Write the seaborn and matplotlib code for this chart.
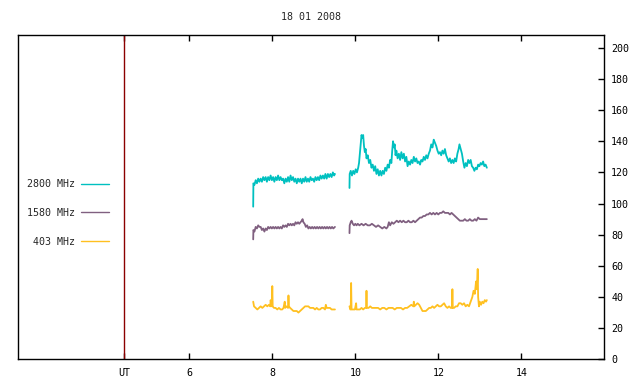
import numpy as np
import pandas as pd
import matplotlib
matplotlib.use("Agg")
import matplotlib.pyplot as plt
import seaborn as sns
from matplotlib.lines import Line2D

# %% Data (time in UT hours, flux in sfu)
title = "18 01 2008"
bands = ["2800 MHz", "1580 MHz", "403 MHz"]
colors = ["#00c0c0", "#806080", "#ffc020"]
ut_marker = 4.43
x_ticks = [6, 8, 10, 12, 14]
y_ticks = list(range(0, 201, 20))

t_2800_a = [7.54, 7.545, 7.57, 7.60, 7.63, 7.66, 7.69, 7.72, 7.75, 7.78, 7.81, 7.84, 7.87, 7.90,
            7.93, 7.96, 7.99, 8.02, 8.05, 8.08, 8.11, 8.14, 8.17, 8.20, 8.23, 8.26, 8.29, 8.32,
            8.35, 8.38, 8.41, 8.44, 8.47, 8.50, 8.53, 8.56, 8.59, 8.62, 8.65, 8.68, 8.71, 8.74,
            8.77, 8.80, 8.83, 8.86, 8.89, 8.92, 8.95, 8.98, 9.01, 9.04, 9.07, 9.10, 9.13, 9.16,
            9.19, 9.22, 9.25, 9.28, 9.31, 9.34, 9.37, 9.40, 9.43, 9.46, 9.49, 9.51]
v_2800_a = [98, 113, 112, 115, 113, 116, 114, 116, 114, 117, 115, 117, 114, 117,
            115, 118, 115, 117, 114, 117, 115, 118, 115, 117, 115, 116, 113, 116,
            114, 117, 114, 118, 115, 117, 114, 116, 113, 116, 114, 116, 113, 116,
            114, 117, 114, 116, 114, 117, 115, 116, 114, 117, 115, 117, 115, 118,
            116, 118, 116, 119, 116, 119, 117, 119, 117, 120, 118, 119]
t_2800_b = [9.86, 9.865, 9.89, 9.92, 9.95, 9.98, 10.01, 10.04, 10.07, 10.09, 10.11, 10.13, 10.15,
            10.17, 10.19, 10.21, 10.23, 10.25, 10.27, 10.30, 10.33, 10.36, 10.39, 10.42, 10.45,
            10.48, 10.51, 10.54, 10.57, 10.60, 10.63, 10.66, 10.69, 10.72, 10.75, 10.78, 10.81,
            10.84, 10.87, 10.89, 10.91, 10.93, 10.95, 10.97, 10.99, 11.02, 11.05, 11.08, 11.11,
            11.14, 11.17, 11.20, 11.23, 11.26, 11.29, 11.32, 11.35, 11.38, 11.41, 11.44, 11.47,
            11.50, 11.53, 11.56, 11.59, 11.62, 11.65, 11.68, 11.71, 11.74, 11.77, 11.80, 11.83,
            11.86, 11.89, 11.92, 11.95, 11.98, 12.01, 12.04, 12.07, 12.10, 12.13, 12.16, 12.19,
            12.22, 12.25, 12.28, 12.31, 12.34, 12.37, 12.40, 12.43, 12.46, 12.49, 12.51, 12.54,
            12.57, 12.60, 12.63, 12.66, 12.69, 12.72, 12.75, 12.78, 12.81, 12.84, 12.87, 12.90,
            12.93, 12.96, 12.99, 13.02, 13.05, 13.08, 13.11, 13.14, 13.17]
v_2800_b = [110, 119, 121, 118, 121, 119, 122, 120, 123, 126, 132, 138, 144,
            142, 144, 137, 133, 135, 129, 131, 126, 128, 123, 125, 121,
            124, 119, 122, 118, 121, 118, 121, 119, 123, 121, 125, 123,
            128, 126, 134, 140, 136, 138, 131, 134, 129, 132, 128, 133,
            129, 132, 127, 130, 124, 127, 125, 128, 126, 130, 127, 129,
            126, 127, 125, 128, 127, 130, 128, 131, 129, 132, 134, 138,
            136, 141, 139, 137, 134, 132, 133, 131, 134, 132, 135, 131,
            129, 127, 129, 126, 128, 126, 129, 127, 132, 135, 138, 135,
            132, 127, 123, 126, 124, 128, 126, 128, 124, 123, 121, 123,
            122, 125, 124, 126, 125, 127, 124, 125, 123]

t_1580_a = [7.54, 7.545, 7.57, 7.60, 7.63, 7.66, 7.69, 7.72, 7.75, 7.78, 7.81, 7.84, 7.87, 7.90,
            7.93, 7.96, 7.99, 8.02, 8.05, 8.08, 8.11, 8.14, 8.17, 8.20, 8.23, 8.26, 8.29, 8.32,
            8.35, 8.38, 8.41, 8.44, 8.47, 8.50, 8.53, 8.56, 8.59, 8.62, 8.65, 8.68, 8.71, 8.73,
            8.75, 8.78, 8.81, 8.84, 8.87, 8.90, 8.93, 8.96, 8.99, 9.02, 9.05, 9.08, 9.11, 9.14,
            9.17, 9.20, 9.23, 9.26, 9.29, 9.32, 9.35, 9.38, 9.41, 9.44, 9.47, 9.51]
v_1580_a = [77, 83, 82, 85, 84, 86, 85, 85, 83, 84, 82, 84, 83, 85,
            84, 85, 84, 85, 84, 85, 84, 85, 84, 85, 84, 86, 85, 86,
            85, 87, 86, 87, 86, 87, 86, 88, 87, 88, 87, 88, 89, 90,
            88, 87, 85, 86, 84, 85, 84, 85, 84, 85, 84, 85, 84, 85,
            84, 85, 84, 85, 84, 85, 84, 85, 84, 85, 84, 85]
t_1580_b = [9.86, 9.865, 9.89, 9.91, 9.94, 9.97, 10.00, 10.03, 10.06, 10.10, 10.15, 10.20, 10.25,
            10.30, 10.35, 10.40, 10.45, 10.50, 10.55, 10.60, 10.65, 10.70, 10.75, 10.78, 10.81,
            10.84, 10.88, 10.92, 10.96, 11.00, 11.04, 11.08, 11.12, 11.16, 11.20, 11.24, 11.28,
            11.32, 11.36, 11.40, 11.44, 11.48, 11.52, 11.56, 11.60, 11.64, 11.68, 11.72, 11.76,
            11.80, 11.84, 11.88, 11.92, 11.96, 12.00, 12.04, 12.08, 12.12, 12.16, 12.20, 12.24,
            12.28, 12.32, 12.36, 12.40, 12.44, 12.48, 12.52, 12.56, 12.60, 12.64, 12.68, 12.72,
            12.76, 12.80, 12.84, 12.88, 12.92, 12.96, 13.00, 13.04, 13.08, 13.12, 13.17]
v_1580_b = [81, 86, 88, 89, 87, 86, 87, 86, 87, 86, 87, 86, 87,
            86, 86, 87, 86, 85, 86, 85, 84, 85, 84, 85, 88,
            86, 88, 87, 88, 89, 88, 89, 88, 89, 88, 88, 89,
            88, 88, 89, 88, 89, 90, 91, 91, 92, 92, 93, 93,
            94, 93, 94, 93, 94, 93, 94, 94, 95, 94, 94, 94,
            93, 94, 93, 92, 91, 90, 89, 89, 89, 90, 89, 89,
            90, 89, 89, 90, 89, 91, 90, 90, 90, 90, 90]

t_403_a = [7.54, 7.56, 7.60, 7.64, 7.68, 7.72, 7.76, 7.80, 7.84, 7.88, 7.92, 7.95, 7.96, 7.99,
           8.00, 8.01, 8.04, 8.08, 8.12, 8.16, 8.20, 8.24, 8.27, 8.30, 8.31, 8.34, 8.38, 8.39,
           8.40, 8.43, 8.47, 8.51, 8.55, 8.59, 8.63, 8.67, 8.71, 8.75, 8.79, 8.83, 8.87, 8.91,
           8.95, 8.99, 9.03, 9.07, 9.11, 9.15, 9.19, 9.23, 9.27, 9.29, 9.31, 9.35, 9.39, 9.43,
           9.47, 9.51]
v_403_a = [37, 34, 33, 32, 33, 34, 33, 34, 35, 34, 35, 34, 38, 34,
           47, 34, 33, 33, 32, 33, 32, 32, 33, 37, 33, 34, 33, 41,
           34, 33, 32, 31, 31, 31, 30, 31, 32, 33, 34, 34, 34, 33,
           33, 33, 32, 33, 32, 32, 33, 33, 32, 35, 33, 33, 33, 32,
           32, 32]
t_403_b = [9.86, 9.88, 9.89, 9.90, 9.91, 9.95, 9.99, 10.02, 10.03, 10.07, 10.11, 10.15, 10.19,
           10.23, 10.26, 10.27, 10.28, 10.32, 10.36, 10.40, 10.45, 10.50, 10.55, 10.60, 10.65,
           10.70, 10.75, 10.80, 10.85, 10.90, 10.95, 11.00, 11.05, 11.10, 11.15, 11.20, 11.25,
           11.30, 11.35, 11.40, 11.41, 11.42, 11.46, 11.50, 11.54, 11.58, 11.62, 11.66, 11.70,
           11.74, 11.78, 11.82, 11.86, 11.90, 11.94, 11.98, 12.02, 12.06, 12.10, 12.14, 12.18,
           12.22, 12.26, 12.30, 12.33, 12.34, 12.35, 12.38, 12.42, 12.46, 12.50, 12.54, 12.58,
           12.62, 12.66, 12.70, 12.74, 12.78, 12.82, 12.85, 12.88, 12.91, 12.93, 12.95, 12.96,
           12.98, 13.00, 13.03, 13.06, 13.09, 13.12, 13.15, 13.17]
v_403_b = [34, 32, 32, 49, 32, 32, 32, 36, 32, 32, 32, 33, 32,
           33, 33, 44, 33, 33, 34, 33, 33, 33, 33, 32, 33,
           33, 32, 33, 33, 33, 32, 33, 33, 33, 32, 33, 33,
           34, 35, 34, 37, 34, 35, 36, 35, 33, 31, 31, 31,
           32, 33, 33, 34, 33, 34, 35, 34, 34, 35, 36, 34,
           33, 34, 33, 33, 45, 33, 33, 34, 34, 36, 36, 35,
           36, 34, 35, 34, 37, 40, 44, 42, 50, 45, 58, 40,
           34, 37, 35, 37, 36, 38, 37, 38]

# %% Long table: one row per sample, segment id keeps the data gap open
pieces = [
    (bands[0], 1, t_2800_a, v_2800_a), (bands[0], 2, t_2800_b, v_2800_b),
    (bands[1], 1, t_1580_a, v_1580_a), (bands[1], 2, t_1580_b, v_1580_b),
    (bands[2], 1, t_403_a, v_403_a), (bands[2], 2, t_403_b, v_403_b),
]
df = pd.concat(
    [pd.DataFrame({"band": b, "seg": s, "time": t, "flux": v}) for b, s, t, v in pieces],
    ignore_index=True,
)

# %% Plot
sns.set_style("white")
plt.rcParams["font.family"] = ["DejaVu Sans Mono"]
plt.rcParams["font.size"] = 7.2

fig = plt.figure(figsize=(6.4, 3.84), dpi=100)
ax = fig.add_axes([0.0286, 0.0643, 0.9156, 0.8437])

sns.lineplot(data=df, x="time", y="flux", hue="band", units="seg", estimator=None,
             sort=False, hue_order=bands, palette=colors, linewidth=1.3, ax=ax, legend=False)

ax.axvline(ut_marker, color="#8b0000", linewidth=1.0)

ax.set_xlim(1.88, 16)
ax.set_ylim(0, 208)
ax.set_xticks([ut_marker] + x_ticks)
ax.set_xticklabels(["UT"] + [str(x) for x in x_ticks])
ax.set_yticks(y_ticks)
ax.yaxis.tick_right()
ax.tick_params(axis="x", direction="in", length=4, width=1, top=True, bottom=True,
               pad=6, colors="black")
ax.tick_params(axis="y", direction="in", length=4, width=1, right=True, left=False,
               pad=5, colors="black")
ax.set_xlabel("")
ax.set_ylabel("")
for sp in ax.spines.values():
    sp.set_color("black")
    sp.set_linewidth(1.0)
ax.set_title(title, fontsize=7.2, pad=11)

handles = [Line2D([], [], color=c, linewidth=1.0) for c in colors]
labels = ["2800 MHz", "1580 MHz", " 403 MHz"]
ax.legend(handles, labels, loc="upper left", bbox_to_anchor=(0.0148, 0.556),
          frameon=False, markerfirst=False, handlelength=2.75, handletextpad=0.65,
          labelspacing=1.88, borderpad=0, borderaxespad=0, fontsize=7.2)

fig.savefig("out.png", dpi=100)
